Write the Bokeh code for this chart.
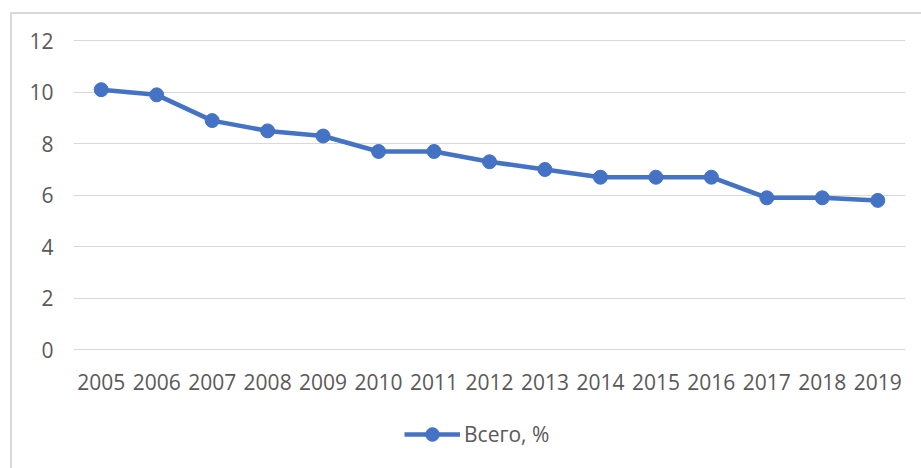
from bokeh.plotting import figure
from bokeh.models import Range1d, FactorRange, Legend, LegendItem, FixedTicker
from bokeh.embed import file_html
from bokeh.resources import INLINE

years = [str(y) for y in range(2005, 2020)]
values = [10.1, 9.9, 8.9, 8.5, 8.3, 7.7, 7.7, 7.3, 7.0, 6.7, 6.7, 6.7, 5.9, 5.9, 5.8]
series_name = "Всего, %"
y_ticks = [0, 2, 4, 6, 8, 10, 12]

FONT = "Open Sans"
TXT = "#595959"
BLUE = "#4472C4"

p = figure(
    frame_width=832, frame_height=429,
    x_range=FactorRange(*years, range_padding=0),
    y_range=Range1d(-4.615, 12.05),
    output_backend="svg", toolbar_location=None,
    min_border_left=61, min_border_right=16, min_border_top=25, min_border_bottom=0,
    margin=(12, 0, 0, 10),
    styles={"border-left": "2px solid #D9D9D9", "border-top": "2px solid #D9D9D9"},
)
p.outline_line_color = None
p.xgrid.grid_line_color = None
p.ygrid.grid_line_color = "#D9D9D9"
p.yaxis.ticker = FixedTicker(ticks=y_ticks)
p.xaxis.fixed_location = 0

for ax in (p.xaxis[0], p.yaxis[0]):
    ax.axis_line_color = None
    ax.major_tick_line_color = None
    ax.minor_tick_line_color = None
    ax.major_tick_out = 0
    ax.major_tick_in = 0
    ax.major_label_text_font = FONT
    ax.major_label_text_font_size = "21px"
    ax.major_label_text_color = TXT
p.yaxis.major_label_standoff = 20
p.xaxis.major_label_standoff = 24

r_line = p.line(years, values, line_color=BLUE, line_width=4.5)
r_pts = p.scatter(years, values, size=14, fill_color=BLUE, line_color=BLUE)

legend = Legend(
    items=[LegendItem(label=series_name, renderers=[r_line, r_pts])],
    orientation="horizontal", location=(331, 17),
    border_line_color=None, background_fill_alpha=0,
    glyph_width=56, glyph_height=34,
    label_text_font=FONT, label_text_font_size="21px", label_text_color=TXT,
    label_standoff=4, padding=0, margin=0,
)
p.add_layout(legend, "center")

open("out.html", "w").write(file_html(p, INLINE))
